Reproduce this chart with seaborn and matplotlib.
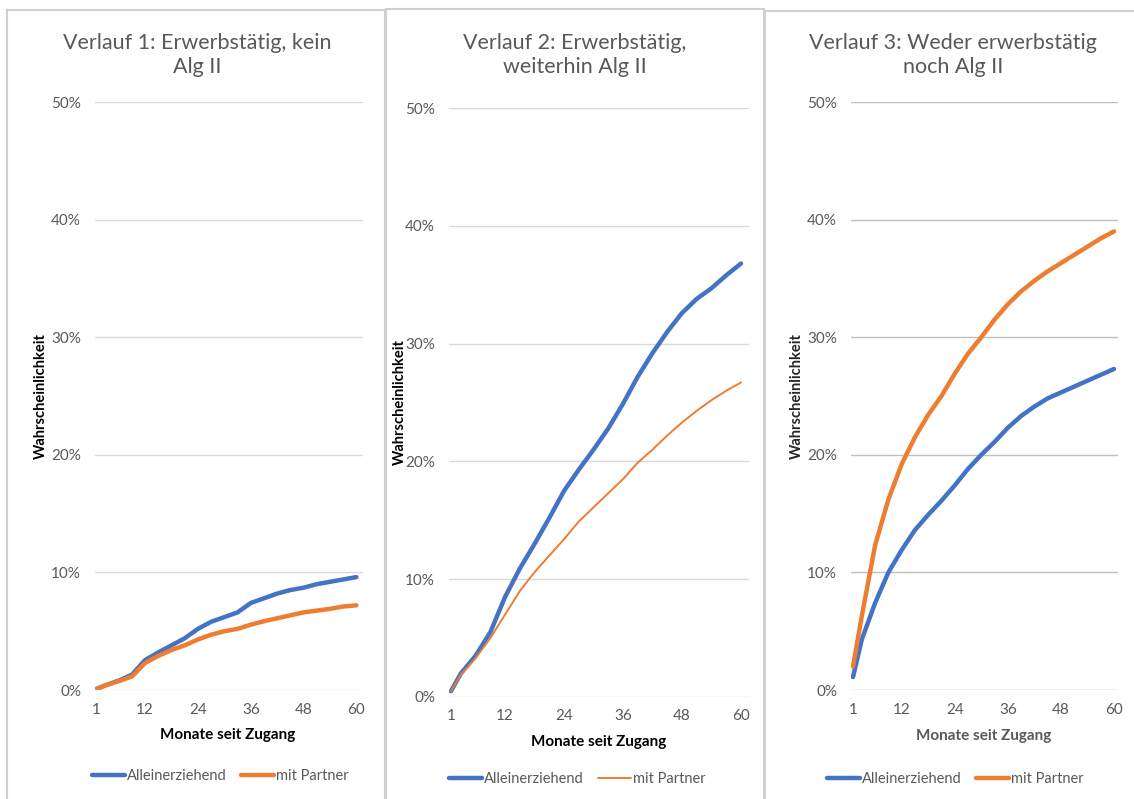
import pandas as pd
import seaborn as sns
import matplotlib.pyplot as plt
from matplotlib.patches import Rectangle

months = [1, 3, 6, 9, 12, 15, 18, 21, 24, 27, 30, 33, 36, 39, 42, 45, 48, 51, 54, 57, 60]
tick_months = [1, 12, 24, 36, 48, 60]
y_ticks = [0, 0.1, 0.2, 0.3, 0.4, 0.5]

titles = [
    "Verlauf 1: Erwerbstätig, kein\nAlg II",
    "Verlauf 2: Erwerbstätig,\nweiterhin Alg II",
    "Verlauf 3: Weder erwerbstätig\nnoch Alg II",
]
series_names = ["Alleinerziehend", "mit Partner"]

# values in percent
v1_allein = [0.1, 0.4, 0.8, 1.3, 2.55, 3.2, 3.8, 4.4, 5.2, 5.8, 6.2, 6.6, 7.4, 7.8, 8.2, 8.5, 8.7, 9.0, 9.2, 9.4, 9.6]
v1_partner = [0.1, 0.4, 0.75, 1.15, 2.3, 2.9, 3.4, 3.8, 4.3, 4.7, 5.0, 5.2, 5.55, 5.85, 6.1, 6.35, 6.6, 6.75, 6.9, 7.1, 7.2]
v2_allein = [0.5, 2.0, 3.5, 5.5, 8.5, 10.9, 13.0, 15.2, 17.5, 19.3, 21.0, 22.8, 24.9, 27.2, 29.2, 31.0, 32.6, 33.8, 34.7, 35.8, 36.8]
v2_partner = [0.5, 1.9, 3.3, 5.0, 7.0, 9.0, 10.6, 12.0, 13.4, 14.9, 16.1, 17.3, 18.5, 19.9, 21.0, 22.2, 23.3, 24.3, 25.2, 26.0, 26.7]
v3_allein = [1.1, 4.3, 7.4, 10.0, 11.9, 13.6, 14.9, 16.1, 17.4, 18.8, 20.0, 21.1, 22.3, 23.3, 24.1, 24.8, 25.3, 25.8, 26.3, 26.8, 27.3]
v3_partner = [2.0, 6.3, 12.3, 16.2, 19.2, 21.5, 23.4, 25.0, 26.9, 28.6, 30.0, 31.5, 32.8, 33.9, 34.8, 35.6, 36.3, 37.0, 37.7, 38.4, 39.0]

panels = [(v1_allein, v1_partner), (v2_allein, v2_partner), (v3_allein, v3_partner)]

sns.set_style("white")
plt.rcParams["font.family"] = ["Lato", "DejaVu Sans"]

blue = "#4472C4"
orange = "#ED7D31"
gray = "#595959"

W, H = 1134, 799
fig = plt.figure(figsize=(W / 100, H / 100), dpi=100)

# pixel layout per panel
layout = [
    dict(ax=(95, 363, 102, 690), xlim=(0.61, 61.5), box=(7, 385, 10), title_x=197, leg_x=220,
         xl_x=228, xl_y=735, leg_y=776, yl_x=41, xl_col="black", yl_col="black", grid="#d9d9d9", lw=(3.2, 3.2)),
    dict(ax=(449, 749, 108, 697), xlim=(0.59, 61.63), box=(386, 764, 9), title_x=575, leg_x=577,
         xl_x=599, xl_y=742, leg_y=779, yl_x=400, xl_col="black", yl_col="black", grid="#d9d9d9", lw=(3.2, 1.4)),
    dict(ax=(851, 1118, 102, 690), xlim=(0.55, 60.9), box=(765, 1140, 11), title_x=953, leg_x=955,
         xl_x=984, xl_y=736, leg_y=779, yl_x=797, xl_col=gray, yl_col="#262626", grid="#bfbfbf", lw=(3.2, 3.2)),
]

for i, (lay, (allein, partner)) in enumerate(zip(layout, panels)):
    x0, x1, yt, yb = lay["ax"]
    ax = fig.add_axes([x0 / W, (H - yb) / H, (x1 - x0) / W, (yb - yt) / H])

    df_a = pd.DataFrame({"Monat": months, "Wert": [v / 100 for v in allein]})
    df_p = pd.DataFrame({"Monat": months, "Wert": [v / 100 for v in partner]})
    sns.lineplot(data=df_a, x="Monat", y="Wert", ax=ax, color=blue, lw=lay["lw"][0],
                 label=series_names[0], solid_capstyle="round")
    sns.lineplot(data=df_p, x="Monat", y="Wert", ax=ax, color=orange, lw=lay["lw"][1],
                 label=series_names[1], solid_capstyle="round")

    ax.set_xlim(*lay["xlim"])
    ax.set_ylim(0, 0.5)
    ax.set_yticks(y_ticks)
    ax.set_yticklabels([f"{int(t * 100)}%" for t in y_ticks])
    ax.set_xticks(tick_months)
    ax.tick_params(axis="both", length=0, labelsize=11, labelcolor=gray)
    ax.tick_params(axis="y", pad=10)
    ax.tick_params(axis="x", pad=9)
    ax.grid(axis="y", color=lay["grid"], lw=1)
    ax.grid(axis="x", visible=False)
    for s in ax.spines.values():
        s.set_visible(False)
    ax.set_xlabel("")
    ax.set_ylabel("")
    ax.get_legend().remove()

    fig.text(lay["title_x"] / W, 1 - 55 / H, titles[i], ha="center", va="center",
             fontsize=15.5, color=gray, linespacing=1.3)
    fig.text(lay["xl_x"] / W, 1 - lay["xl_y"] / H, "Monate seit Zugang", ha="center", va="center",
             fontsize=11, fontweight="bold", color=lay["xl_col"])
    fig.text(lay["yl_x"] / W, 1 - (yt + yb) / 2 / H, "Wahrscheinlichkeit", ha="center", va="center",
             rotation=90, fontsize=10.5, fontweight="bold", color=lay["yl_col"])

    handles, labels = ax.get_legend_handles_labels()
    fig.legend(handles, labels, loc="center", bbox_to_anchor=(lay["leg_x"] / W, 1 - lay["leg_y"] / H),
               ncol=2, frameon=False, fontsize=10.5, labelcolor=gray, handlelength=2.3,
               handletextpad=0.1, columnspacing=1.0)

    bx0, bx1, bt = lay["box"]
    fig.add_artist(Rectangle((bx0 / W, -0.01), (bx1 - bx0) / W, (H - bt) / H + 0.01,
                             transform=fig.transFigure, fill=False, edgecolor="#d0d0d0", lw=1.5))

fig.savefig("out.png", dpi=100)
